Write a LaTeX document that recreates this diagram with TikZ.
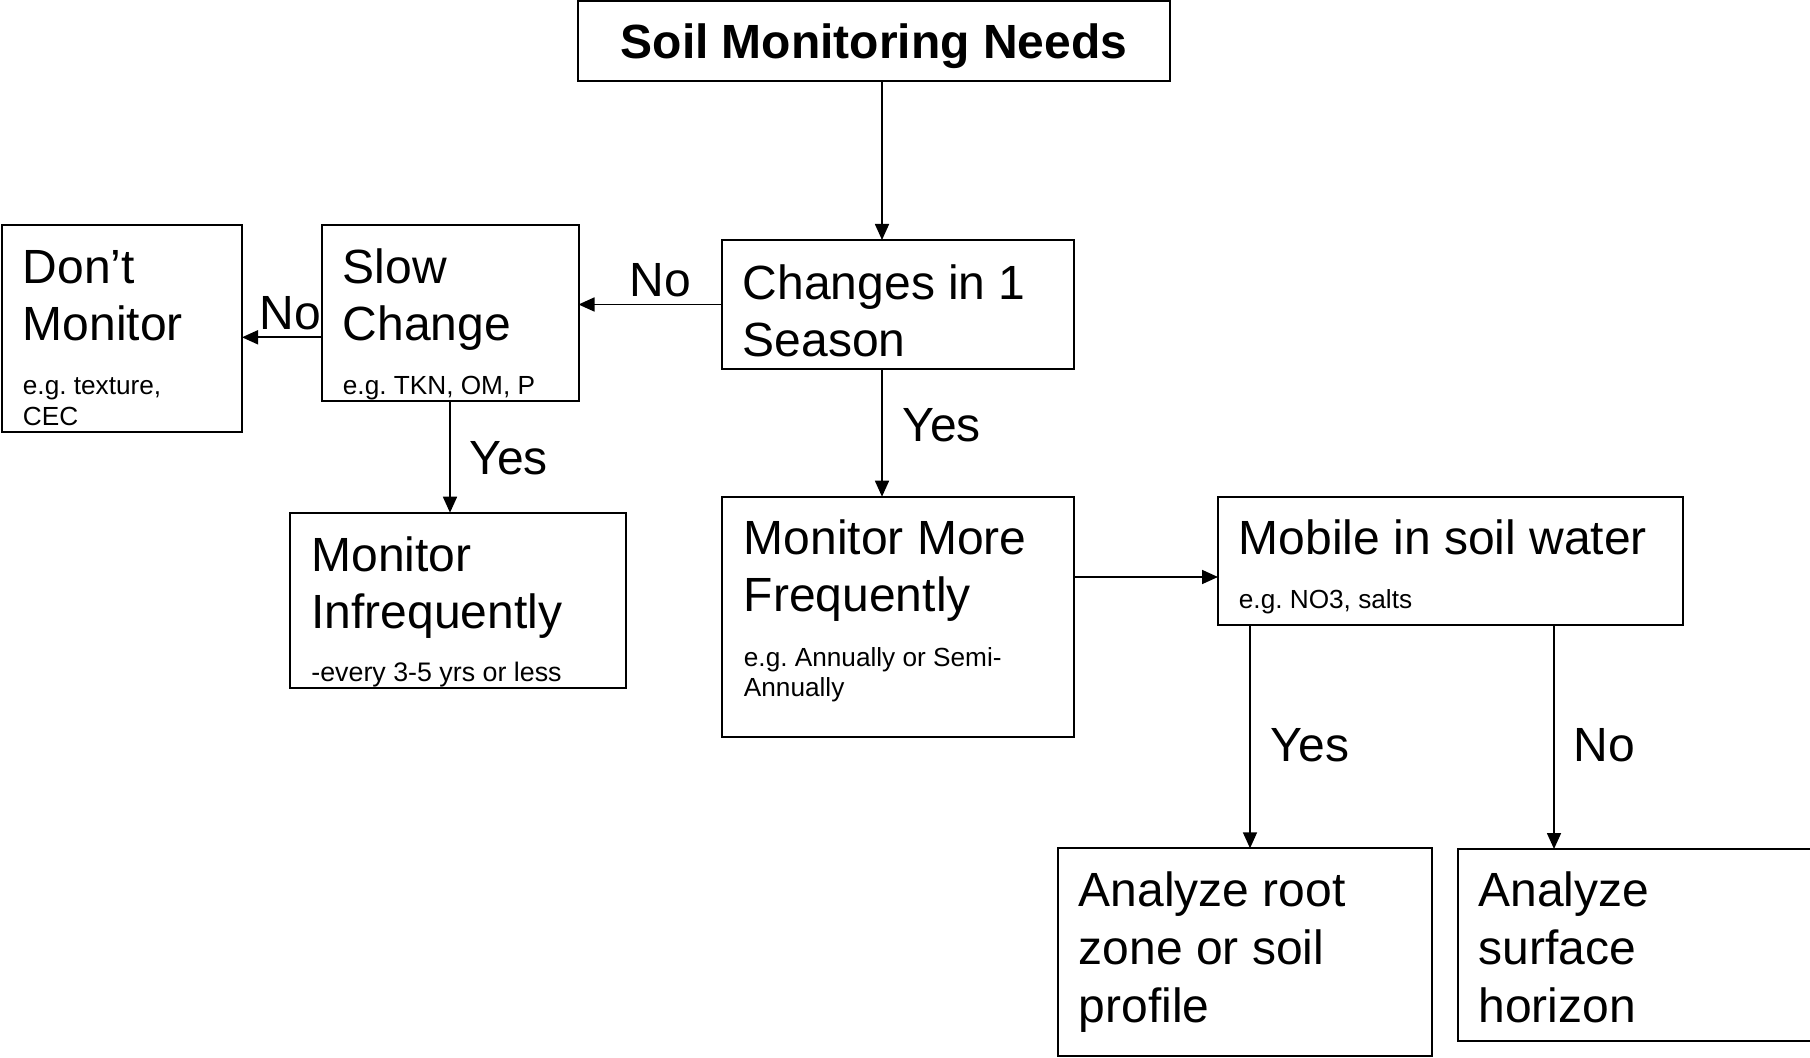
\documentclass[tikz,border=0pt]{standalone}
\usepackage{fontspec}
\setmainfont{Liberation Sans}
\usetikzlibrary{arrows.meta}
\newcommand\BigTxt{\fontsize{24pt}{28.8pt}\selectfont}
\newcommand\SmTxt{\fontsize{13.1pt}{15.3pt}\selectfont}
\newcommand\MidTxt{\fontsize{13.4pt}{16pt}\selectfont}
\frenchspacing
\begin{document}
\begin{tikzpicture}[x=0.5pt,y=-0.5pt,
  box/.style={draw, line width=1pt, inner sep=0pt, outer sep=0pt, anchor=north west},
  big/.style={font=\BigTxt, inner sep=0pt, anchor=base west},
  sm/.style={font=\SmTxt, inner sep=0pt, anchor=base west},
  mid/.style={font=\MidTxt, inner sep=0pt, anchor=base west},
  arr/.style={-{Triangle[length=8pt,width=7pt]}, line width=0.85pt}]
\useasboundingbox (0,0) rectangle (1810,1058);
\clip (0,0) rectangle (1810,1058);
\fill[white] (0,0) rectangle (1810,1058);

% boxes
\node[box, minimum width=296pt, minimum height=40pt] (title) at (578,1) {};
\node[box, minimum width=176pt, minimum height=64.5pt] (chg) at (722,240) {};
\node[box, minimum width=128.5pt, minimum height=88pt] (slow) at (321.5,225) {};
\node[box, minimum width=120pt, minimum height=103.5pt] (dont) at (2,225) {};
\node[box, minimum width=168pt, minimum height=87.7pt] (inf) at (290,512.7) {};
\node[box, minimum width=176pt, minimum height=120pt] (more) at (721.5,496.7) {};
\node[box, minimum width=232.3pt, minimum height=64.2pt] (mob) at (1218,496.7) {};
\node[box, minimum width=187pt, minimum height=103.8pt] (root) at (1058,848.3) {};
\node[box, minimum width=186.25pt, minimum height=96pt] (surf) at (1457.5,849) {};

% texts
\node[font=\BigTxt\bfseries, inner sep=0pt, anchor=base] (ttitle) at (874,58.5) {Soil Monitoring Needs};

\node[big] (tchg1) at (742.5,299.5) {Changes in 1};
\node[big] (tchg2) at (742.5,357) {Season};

\node[big] (tslow1) at (342.5,283.2) {Slow};
\node[big] (tslow2) at (342.5,340.8) {Change};
\node[sm] (tslow3) at (342.5,394.5) {e.g. TKN, OM, P};

\node[big] (tdont1) at (22.5,283.2) {Don’t};
\node[big] (tdont2) at (22.5,340.8) {Monitor};
\node[sm] (tdont3) at (22.5,394.5) {e.g. texture,};
\node[sm] (tdont4) at (22.5,425.5) {CEC};

\node[big] (tinf1) at (311,571.5) {Monitor};
\node[big] (tinf2) at (311,628.8) {Infrequently};
\node[mid] (tinf3) at (311,681.5) {-every 3-5 yrs or less};

\node[big] (tmore1) at (743.5,554.8) {Monitor More};
\node[big] (tmore2) at (743.5,612) {Frequently};
\node[sm] (tmore3) at (743.5,666.5) {e.g. Annually or Semi-};
\node[sm] (tmore4) at (743.5,697) {Annually};

\node[big] (tmob1) at (1238.5,554.8) {Mobile in soil water};
\node[sm] (tmob2) at (1238.5,608.2) {e.g. NO3, salts};

\node[big] (troot1) at (1078.5,906.5) {Analyze root};
\node[big] (troot2) at (1078.5,964.5) {zone or soil};
\node[big] (troot3) at (1078.5,1022.2) {profile};

\node[big] (tsurf1) at (1478,906.5) {Analyze};
\node[big] (tsurf2) at (1478,964.5) {surface};
\node[big] (tsurf3) at (1478,1022.2) {horizon};

% connector guides
\coordinate (xa) at (882,0);
\coordinate (xb) at (450,0);
\coordinate (xc) at (1250,0);
\coordinate (xd) at (1554,0);
\coordinate (ya) at (0,304.5);
\coordinate (yb) at (0,337.3);
\coordinate (yc) at (0,577);

% connectors
\draw[arr] (title.south -| xa) -- (chg.north -| xa);
\draw[arr] (chg.west |- ya) -- (slow.east |- ya);
\draw[arr] (slow.west |- yb) -- (dont.east |- yb);
\draw[arr] (slow.south -| xb) -- (inf.north -| xb);
\draw[arr] (chg.south -| xa) -- (more.north -| xa);
\draw[arr] (more.east |- yc) -- (mob.west |- yc);
\draw[arr] (mob.south -| xc) -- (root.north -| xc);
\draw[arr] (mob.south -| xd) -- (surf.north -| xd);

% labels
\node[big] (lno1) at (629.5,297) {No};
\node[big] (lno2) at (259,330) {No};
\node[big] (lyes1) at (469,474.2) {Yes};
\node[big] (lyes2) at (902,441.5) {Yes};
\node[big] (lyes3) at (1270.5,761.5) {Yes};
\node[big] (lno3) at (1573.5,761.5) {No};
\end{tikzpicture}
\end{document}
